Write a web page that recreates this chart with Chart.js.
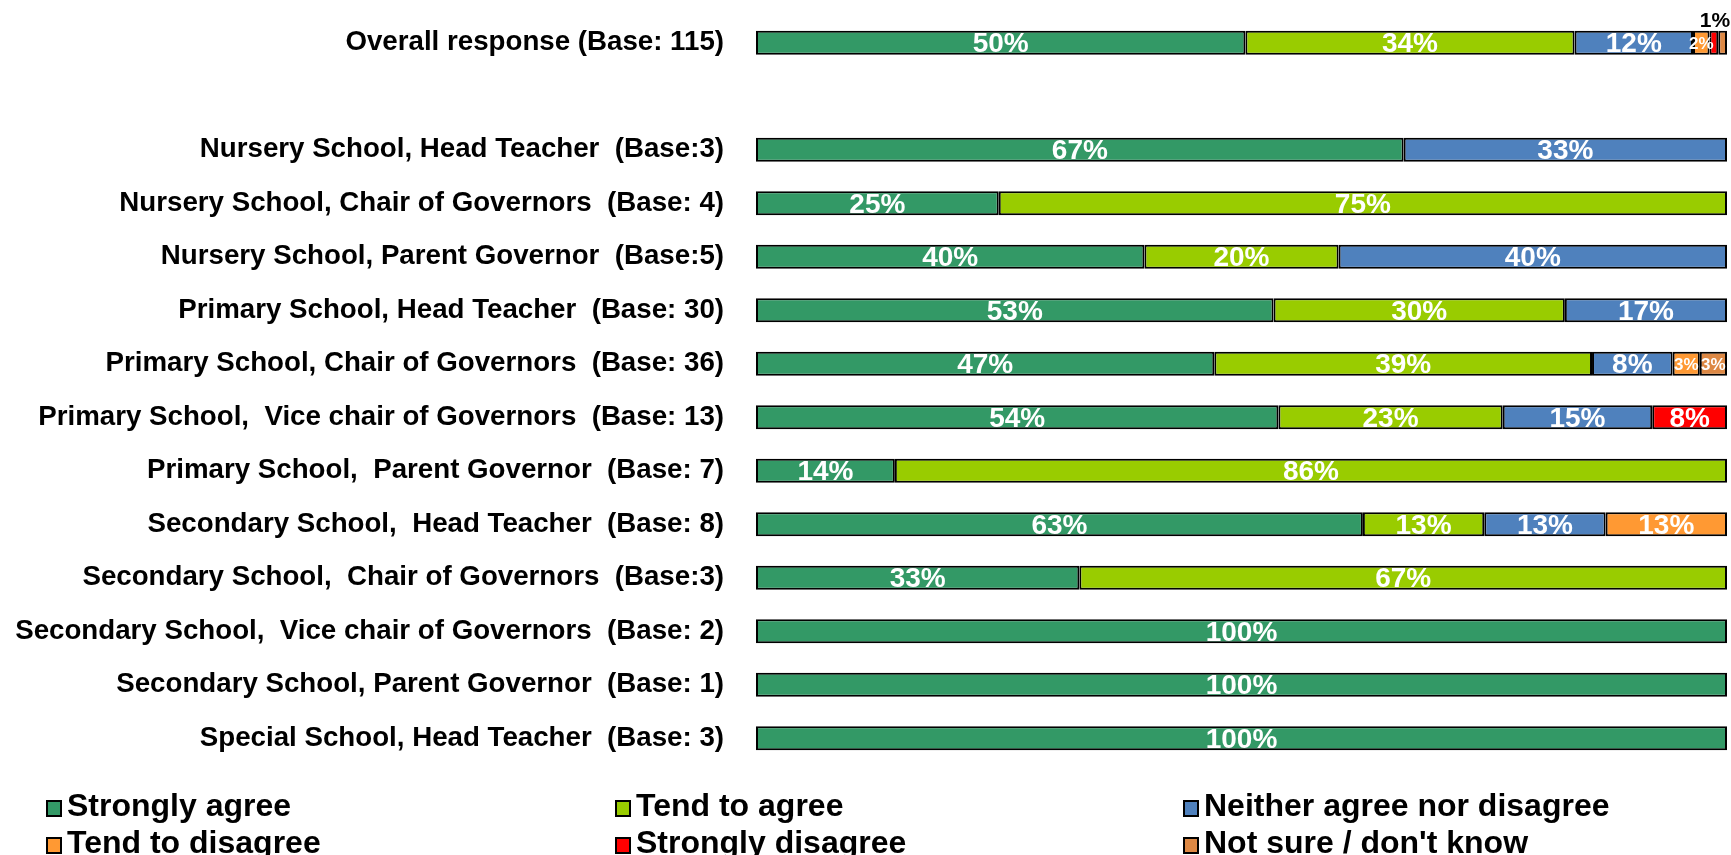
<!DOCTYPE html>
<html>
<head>
<meta charset="utf-8">
<script src="https://cdn.jsdelivr.net/npm/chart.js@4/dist/chart.umd.min.js"></script>
<style>
  body { margin: 0; background: #fff; font-family: "Liberation Sans", Arial, sans-serif; }
  #wrap { position: relative; width: 1731px; height: 855px; overflow: hidden; }
  #chartBox { position: absolute; left: 0; top: 0; width: 1731px; height: 790px; }
  .leg { position: absolute; font-weight: bold; font-size: 32px; color: #000; line-height: 36px; white-space: nowrap; }
  .leg span { display: inline-block; box-sizing: border-box; width: 16px; height: 17px; border: 2px solid #000; margin-right: 5px; vertical-align: -1px; }
</style>
</head>
<body>
<div id="wrap">
  <div id="chartBox"><canvas id="surveyChart"></canvas></div>
  <div id="legend"></div>
</div>
<script>
"use strict";

// Row labels (second row is an empty spacer)
const categories = [
    'Overall response (Base: 115)',
    '',
    'Nursery School, Head Teacher  (Base:3)',
    'Nursery School, Chair of Governors  (Base: 4)',
    'Nursery School, Parent Governor  (Base:5)',
    'Primary School, Head Teacher  (Base: 30)',
    'Primary School, Chair of Governors  (Base: 36)',
    'Primary School,  Vice chair of Governors  (Base: 13)',
    'Primary School,  Parent Governor  (Base: 7)',
    'Secondary School,  Head Teacher  (Base: 8)',
    'Secondary School,  Chair of Governors  (Base:3)',
    'Secondary School,  Vice chair of Governors  (Base: 2)',
    'Secondary School, Parent Governor  (Base: 1)',
    'Special School, Head Teacher  (Base: 3)'
];

// Percentages per answer
const stronglyAgree    = [50.4, null, 66.7, 25, 40, 53.3, 47.2, 53.8, 14.3, 62.5, 33.3, 100, 100, 100];
const tendToAgree      = [33.9, null, null, 75, 20, 30, 38.9, 23.1, 85.7, 12.5, 66.7, null, null, null];
const neither          = [12.2, null, 33.3, null, 40, 16.7, 8.3, 15.4, null, 12.5, null, null, null, null];
const tendToDisagree   = [1.7, null, null, null, null, null, 2.8, null, null, 12.5, null, null, null, null];
const stronglyDisagree = [0.9, null, null, null, null, null, null, 7.7, null, null, null, null, null, null];
const notSure          = [0.9, null, null, null, null, null, 2.8, null, null, null, null, null, null, null];

const seriesNames = ['Strongly agree', 'Tend to agree', 'Neither agree nor disagree',
    'Tend to disagree', 'Strongly disagree', "Not sure / don't know"];
const seriesData = [stronglyAgree, tendToAgree, neither, tendToDisagree, stronglyDisagree, notSure];
const seriesColors = ['#339966', '#99CC00', '#4F81BD', '#FF9933', '#FF0000', '#DD8844'];

const datasets = seriesNames.map((name, i) => ({
    label: name,
    data: seriesData[i],
    backgroundColor: seriesColors[i],
    borderColor: '#000',
    borderWidth: 2,
    borderSkipped: false,
    barPercentage: 0.9,
    categoryPercentage: 0.5
}));

// Draws the % labels inside each segment
const segmentLabels = {
    id: 'segmentLabels',
    afterDatasetsDraw(chart) {
        const ctx = chart.ctx;
        ctx.save();
        ctx.textAlign = 'center';
        ctx.textBaseline = 'middle';
        chart.data.datasets.forEach((ds, di) => {
            const meta = chart.getDatasetMeta(di);
            meta.data.forEach((bar, idx) => {
                const v = ds.data[idx];
                if (v == null) return;
                const txt = Math.round(v) + '%';
                const w = Math.abs(bar.x - bar.base);
                const cx = (bar.x + bar.base) / 2;
                if (w < 12) {
                    // tiny slice: only the strongly disagree one gets a label, above the bar
                    if (di === 4) {
                        ctx.fillStyle = '#000';
                        ctx.font = 'bold 21px "Liberation Sans", Arial';
                        ctx.fillText(txt, cx + 1, bar.y - 22);
                    }
                    return;
                }
                ctx.fillStyle = '#fff';
                ctx.font = w < 45 ? 'bold 17px "Liberation Sans", Arial' : 'bold 28px "Liberation Sans", Arial';
                ctx.fillText(txt, cx, bar.y + 2);
            });
        });
        ctx.restore();
    }
};

const chart = new Chart(document.getElementById('surveyChart'), {
    type: 'bar',
    data: { labels: categories, datasets },
    options: {
        indexAxis: 'y',
        responsive: true,
        maintainAspectRatio: false,
        animation: false,
        layout: { padding: { top: 16, bottom: 25, right: 4, left: 0 } },
        scales: {
            x: { stacked: true, min: 0, max: 100, display: false },
            y: {
                stacked: true,
                grid: { display: false },
                border: { display: false },
                ticks: {
                    color: '#000',
                    padding: 24,
                    font: { family: '"Liberation Sans", Arial', size: 27.7, weight: 'bold' }
                },
                afterFit(scale) {
                    scale.width = 756;
                    scale.paddingTop = 0;
                    scale.paddingBottom = 0;
                }
            }
        },
        plugins: {
            legend: { display: false },
            tooltip: { enabled: false }
        }
    },
    plugins: [segmentLabels]
});

// Legend in three columns under the chart
const legendPos = [[46, 787], [615, 787], [1183, 787], [46, 824], [615, 824], [1183, 824]];
const legendEl = document.getElementById('legend');
seriesNames.forEach((name, i) => {
    const d = document.createElement('div');
    d.className = 'leg';
    d.style.left = legendPos[i][0] + 'px';
    d.style.top = legendPos[i][1] + 'px';
    d.innerHTML = '<span style="background:' + seriesColors[i] + '"></span>' + name.replace("'", '&#39;');
    legendEl.appendChild(d);
});
</script>
</body>
</html>
